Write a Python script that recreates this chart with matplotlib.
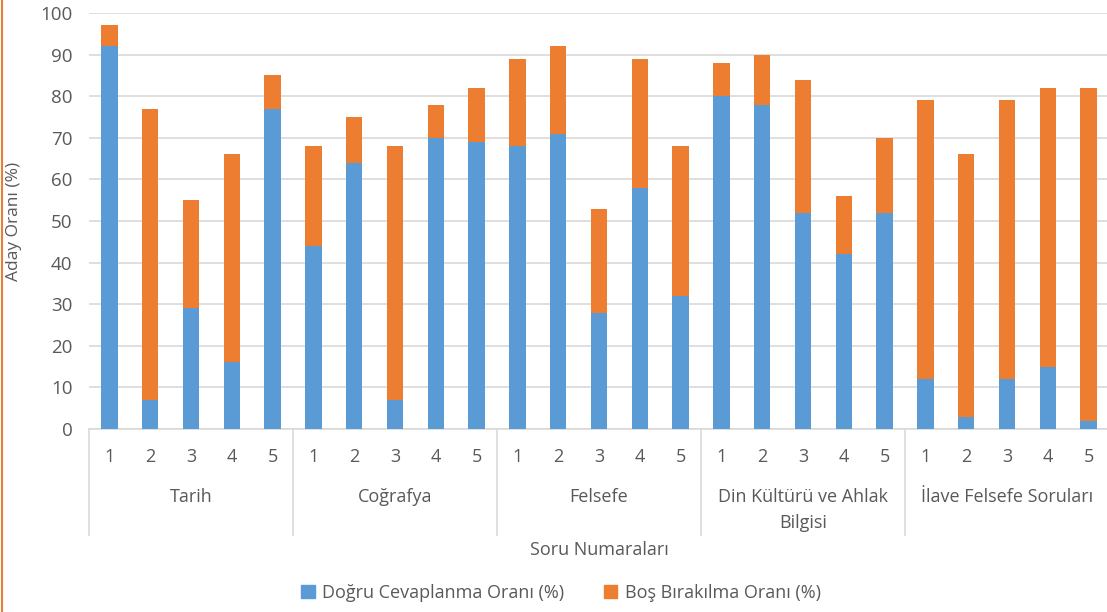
import matplotlib
matplotlib.use("Agg")
import matplotlib.pyplot as plt
from matplotlib.patches import Patch
from matplotlib.lines import Line2D
import numpy as np

groups = ["Tarih", "Coğrafya", "Felsefe", "Din Kültürü ve Ahlak\nBilgisi", "İlave Felsefe Soruları"]
sub_labels = ["1", "2", "3", "4", "5"]
dogru = [92, 7, 29, 16, 77,
         44, 64, 7, 70, 69,
         68, 71, 28, 58, 32,
         80, 78, 52, 42, 52,
         12, 3, 12, 15, 2]
bos = [5, 70, 26, 50, 8,
       24, 11, 61, 8, 13,
       21, 21, 25, 31, 36,
       8, 12, 32, 14, 18,
       67, 63, 67, 67, 80]
series_names = ["Doğru Cevaplanma Oranı (%)", "Boş Bırakılma Oranı (%)"]
yticks = [0, 10, 20, 30, 40, 50, 60, 70, 80, 90, 100]

BLUE = "#5B9BD5"
ORANGE = "#ED7D31"
GRID = "#D9D9D9"
TXT = "#595959"
FONT = ["Open Sans", "DejaVu Sans"]
plt.rcParams["font.family"] = FONT

W, H = 1107, 612
fig = plt.figure(figsize=(W / 100, H / 100), dpi=100)
ax_left, ax_right, ax_top, ax_bot = 89, 1109, 13, 429
ax = fig.add_axes([ax_left / W, 1 - ax_bot / H, (ax_right - ax_left) / W, (ax_bot - ax_top) / H])

n = len(dogru)
x = np.arange(n)
ax.bar(x, dogru, width=0.4, color=BLUE, zorder=3)
ax.bar(x, bos, width=0.4, bottom=dogru, color=ORANGE, zorder=3)

ax.set_xlim(-0.5, n - 0.5)
ax.set_ylim(0, 100)
ax.set_yticks(yticks)
ax.yaxis.grid(True, color=GRID, linewidth=1.2, zorder=0)
ax.set_axisbelow(True)
ax.tick_params(axis="y", length=0, pad=12, labelsize=13.5, labelcolor=TXT)
ax.set_xticks([])
for s in ["top", "right", "left"]:
    ax.spines[s].set_visible(False)
ax.spines["bottom"].set_color(GRID)
ax.spines["bottom"].set_linewidth(1.2)

ah = ax_bot - ax_top
def yfrac(ypix):
    return (ax_bot - ypix) / ah

tr = ax.get_xaxis_transform()
ng = len(groups)
per = len(sub_labels)
for gi, g in enumerate(groups):
    for si, s in enumerate(sub_labels):
        ax.text(gi * per + si, yfrac(457), s, transform=tr, ha="center", va="center",
                fontsize=13, color=TXT)
    cx = gi * per + (per - 1) / 2
    lines = g.split("\n")
    for li, ln in enumerate(lines):
        ax.text(cx, yfrac(497 + 26 * li), ln, transform=tr, ha="center", va="center",
                fontsize=13, color=TXT)
for gi in range(ng + 1):
    xs = gi * per - 0.5
    ax.add_line(Line2D([xs, xs], [0, yfrac(535)], transform=tr, color=GRID,
                       linewidth=1.2, clip_on=False))

fig.text(0.5 * (ax_left + ax_right) / W, 1 - 550 / H, "Soru Numaraları", ha="center", va="center",
         fontsize=13, color=TXT)
ax.set_ylabel("Aday Oranı (%)", fontsize=12.5, color=TXT, labelpad=14)
ax.yaxis.set_label_coords(-(ax_left - 22) / (ax_right - ax_left), 0.5)

handles = [Patch(color=BLUE), Patch(color=ORANGE)]
fig.legend(handles, series_names, loc="center", bbox_to_anchor=(561 / W, 1 - 593 / H),
           ncol=2, frameon=False, fontsize=13, labelcolor=TXT, handlelength=0.75, handleheight=0.75,
           handletextpad=0.4, columnspacing=2.2)

fig.add_artist(Line2D([1.5 / W, 1.5 / W], [0, 1], transform=fig.transFigure, color=ORANGE, linewidth=1.5))

fig.savefig("out.png", dpi=100)
